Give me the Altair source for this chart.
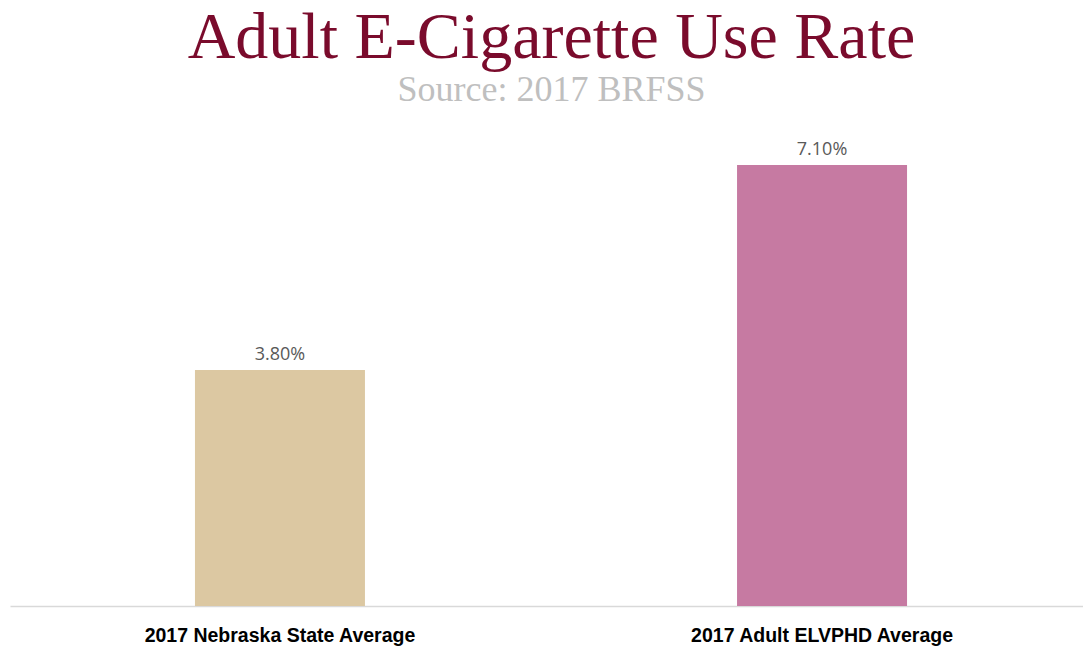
import altair as alt
import pandas as pd

categories = ["2017 Nebraska State Average", "2017 Adult ELVPHD Average"]
values = [3.8, 7.1]
value_labels = ["3.80%", "7.10%"]
colors = ["#DCC8A2", "#C67AA2"]

df = pd.DataFrame({"cat": categories, "val": values, "lab": value_labels, "col": colors})

x = alt.X("cat:N", sort=categories, title=None,
          scale=alt.Scale(range=[0, 1082], paddingInner=0.686, paddingOuter=0.341),
          axis=alt.Axis(labelAngle=0, labelFont="Liberation Sans Narrow, Liberation Sans",
                        labelFontWeight="bold", labelFontSize=19.5, labelColor="#000000",
                        labelPadding=20, labelLimit=0, ticks=False,
                        domainColor="#D9D9D9", domainWidth=1.5))
y = alt.Y("val:Q", scale=alt.Scale(domain=[0, 8], nice=False), axis=None)

bars = alt.Chart(df).mark_bar(size=170).encode(
    x=x, y=y, color=alt.Color("col:N", scale=None)
)
texts = alt.Chart(df).mark_text(baseline="bottom", dy=-6, fontSize=18,
                                font="Open Sans, Liberation Sans", color="#595959").encode(
    x=alt.X("cat:N", sort=categories), y=y, text="lab:N"
)

chart = alt.layer(bars, texts).properties(
    width=1065, height=497,
    title=alt.TitleParams(
        text="Adult E-Cigarette Use Rate",
        subtitle="Source: 2017 BRFSS",
        font="Liberation Serif", fontSize=66, fontWeight="normal", color="#7A0B2C",
        subtitleFont="Liberation Serif", subtitleFontSize=36, subtitleColor="#BFBFBF",
        subtitlePadding=1, anchor="middle", offset=0, dx=9
    ),
    autosize=alt.AutoSizeParams(type="none"),
    padding={"left": 10, "top": 109, "right": 8, "bottom": 44},
).configure_view(stroke=None)

chart.save("out.html", embed_options={"renderer": "svg", "actions": False})
